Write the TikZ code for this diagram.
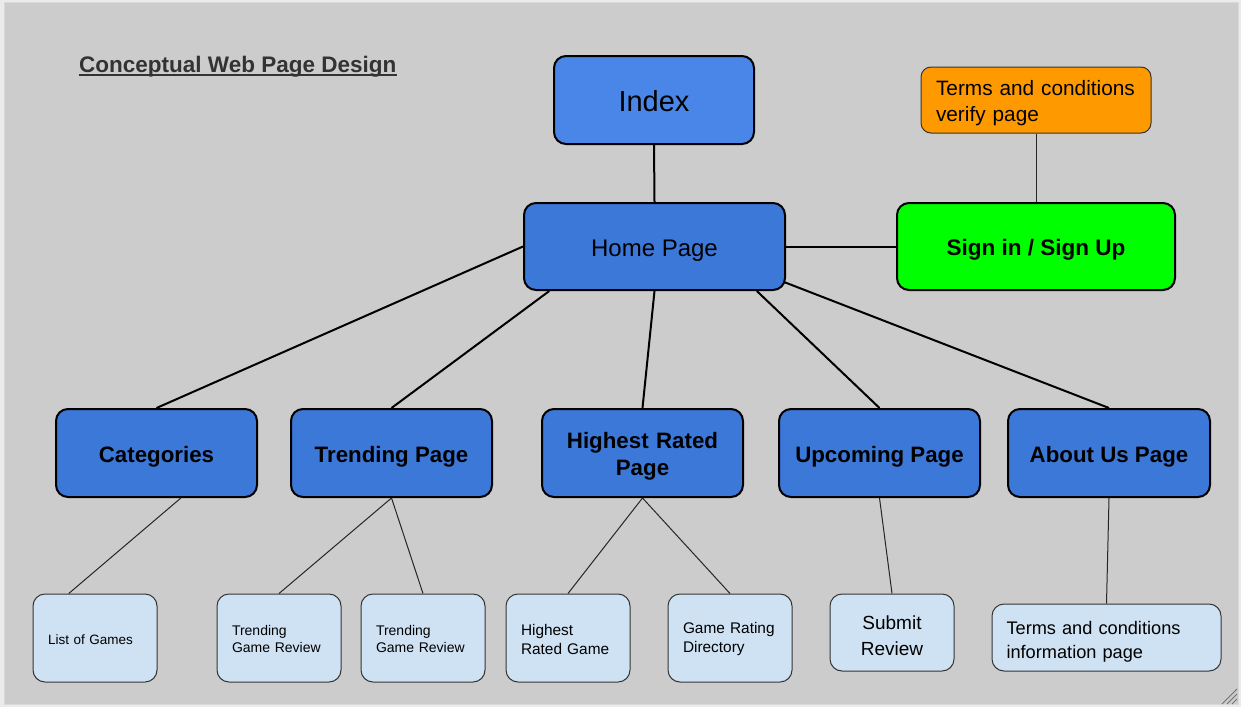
\documentclass[tikz,border=0pt]{standalone}
\usepackage{fontspec}
\setmainfont{Liberation Sans}
\usetikzlibrary{calc}

\definecolor{canvas}{HTML}{CCCCCC}
\definecolor{frame}{HTML}{EBEBEB}
\definecolor{indexblue}{HTML}{4A86E8}
\definecolor{pageblue}{HTML}{3C78D8}
\definecolor{leafblue}{HTML}{CFE2F3}
\definecolor{verifyorange}{HTML}{FF9900}
\definecolor{signgreen}{HTML}{00FF00}
\definecolor{titlegray}{HTML}{333333}
\definecolor{leafedge}{HTML}{333333}

\tikzset{
  % taller first line, so the text sits a little lower in its box
  textdrop/.style={execute at begin node={\rule{0pt}{\dimexpr0.75em+#1\relax}}},
  bigbase/.style={draw=black, line width=2pt, rounded corners=12pt,
    fill=pageblue, inner sep=0pt, align=center},
  bigbox/.style={bigbase, textdrop=6pt},
  leafbox/.style={draw=leafedge, line width=1pt, rounded corners=12pt,
    fill=leafblue, inner ysep=0pt, inner xsep=15pt,
    minimum width=124pt, minimum height=88pt, textdrop=2pt},
  mainlink/.style={draw=black, line width=2pt},
  leaflink/.style={draw=black!85, line width=1pt},
}

\begin{document}
\begin{tikzpicture}[x=1pt, y=-1pt]
  % drawing canvas
  \fill[frame] (0,0) rectangle (1241,707);
  \filldraw[fill=canvas, draw=white!85!black, line width=1pt] (4,2) rectangle (1238,704);
  \useasboundingbox (0,0) rectangle (1241,707);

  % title
  \node[anchor=base west, inner sep=0pt, text=titlegray,
        font=\fontsize{22.5}{27}\selectfont\bfseries] (title) at (79,72)
        {Conceptual Web Page Design};
  \draw[titlegray, line width=2pt]
        ($(title.base west)+(0,3)$) -- ($(title.base east)+(0,3)$);

  % top level
  \node[bigbase, fill=indexblue, minimum width=200pt, minimum height=88pt, textdrop=1.5pt,
        font=\fontsize{29}{34}\selectfont] (index) at (654,100) {Index};
  \node[bigbox, minimum width=261pt, minimum height=87pt,
        font=\fontsize{24}{28}\selectfont] (home) at (654.5,246.5) {Home Page};
  \node[bigbox, fill=signgreen, minimum width=278pt, minimum height=87pt,
        font=\fontsize{22.5}{27}\selectfont\bfseries] (sign) at (1036,246.5) {Sign in / Sign Up};
  \node[draw=leafedge, line width=1pt, rounded corners=10pt, fill=verifyorange,
        inner xsep=15pt, inner ysep=0pt, text width=200pt, align=left, textdrop=6pt,
        minimum height=66pt, font=\fontsize{20.8}{26}\selectfont] (verify) at (1036,100)
        {Terms and conditions\\verify page};

  % second level
  \tikzset{secbox/.style={bigbox, minimum width=201pt, minimum height=88pt,
        font=\fontsize{22.3}{27}\selectfont\bfseries}}
  \node[secbox] (cat) at (156.5,453) {Categories};
  \node[secbox] (trend) at (391.5,453) {Trending Page};
  \node[secbox, text width=181pt, inner xsep=10pt] (high) at (642.5,453) {Highest Rated\\Page};
  \node[secbox] (up) at (879.5,453) {Upcoming Page};
  \node[secbox, minimum width=202pt] (about) at (1109,453) {About Us Page};

  % leaf pages
  \node[leafbox, align=left, text width=94pt,
        font=\fontsize{13.5}{16}\selectfont] (games) at (95,638) {List of Games};
  \node[leafbox, align=left, text width=94pt,
        font=\fontsize{14}{17}\selectfont] (review1) at (279,638) {Trending\\Game Review};
  \node[leafbox, align=left, text width=94pt,
        font=\fontsize{14}{17}\selectfont] (review2) at (423,638) {Trending\\Game Review};
  \node[leafbox, align=left, text width=94pt,
        font=\fontsize{15.4}{19}\selectfont] (ratedgame) at (568,638) {Highest\\Rated Game};
  \node[leafbox, align=left, text width=94pt,
        font=\fontsize{15.4}{19}\selectfont] (ratingdir) at (730,638) {Game Rating\\Directory};
  \node[leafbox, minimum height=77pt, align=center, text width=94pt, textdrop=5pt,
        font=\fontsize{19}{26}\selectfont] (submit) at (892,632.5) {Submit\\Review};
  \node[leafbox, minimum height=67pt, align=left, text width=200pt, inner xsep=14.5pt,
        textdrop=8pt, font=\fontsize{18.2}{24}\selectfont] (info) at (1106.5,637.5)
        {Terms and conditions\\information page};

  % links between pages
  \draw[mainlink] (index.south) -- (home.north);
  \draw[mainlink] (home.east) -- (sign.west);
  \draw[leaflink] (verify.south) -- (sign.north);
  \draw[mainlink] (home.west) -- (cat.north);
  \draw[mainlink] ($(home.south west)!0.1!(home.south east)$) -- (trend.north);
  \draw[mainlink] (home.south) -- (high.north);
  \draw[mainlink] ($(home.south west)!0.889!(home.south east)$) -- (up.north);
  \draw[mainlink] ($(home.south east)+(-2,-9)$) -- (about.north);

  \draw[leaflink] ($(cat.south west)!0.62!(cat.south east)$) -- ($(games.north west)!0.29!(games.north east)$);
  \draw[leaflink] (trend.south) -- (review1.north);
  \draw[leaflink] (trend.south) -- (review2.north);
  \draw[leaflink] (high.south) -- (ratedgame.north);
  \draw[leaflink] (high.south) -- (ratingdir.north);
  \draw[leaflink] (up.south) -- (submit.north);
  \draw[leaflink] (about.south) -- (info.north);

  % resize grip in the corner
  \foreach \d in {0,5,10}
    \draw[black!55, line width=0.8pt] (1237,{689+\d}) -- ({1222+\d},704);
\end{tikzpicture}
\end{document}
